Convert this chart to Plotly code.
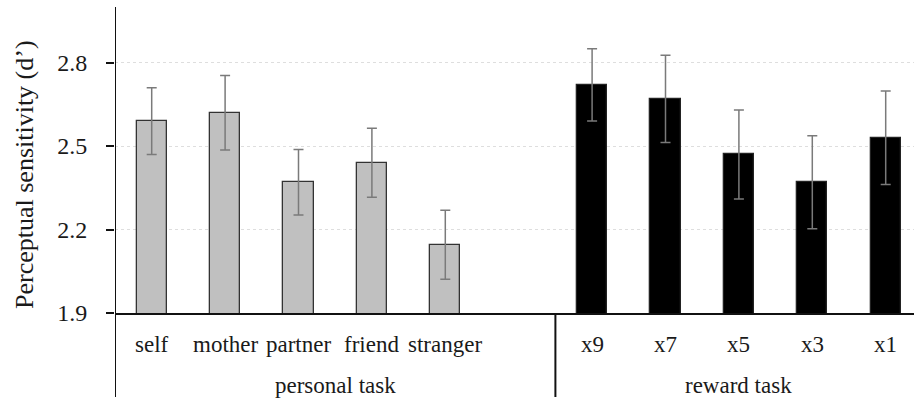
import plotly.graph_objects as go

# Perceptual sensitivity (d') by condition, two tasks
personal_labels = ["self", "mother", "partner", "friend", "stranger"]
personal_means = [2.59, 2.62, 2.37, 2.44, 2.145]
personal_err = [0.12, 0.134, 0.118, 0.124, 0.124]

reward_labels = ["x9", "x7", "x5", "x3", "x1"]
reward_means = [2.72, 2.67, 2.47, 2.37, 2.53]
reward_err = [0.13, 0.157, 0.16, 0.167, 0.168]

group_labels = ["personal task", "reward task"]
y_ticks = [1.9, 2.2, 2.5, 2.8]

W, H = 914, 401
M_L, M_R, M_T, M_B = 115, 0, 7, 88
plot_h = H - M_T - M_B

# personal conditions in slots 0..4, one empty slot, reward in 6..10
px = list(range(len(personal_labels)))
rx = [len(personal_labels) + 1 + i for i in range(len(reward_labels))]
sep_x = len(personal_labels) + 0.5
slot_px = 73.4
x_lo = -0.5
x_hi = x_lo + (W - M_L - M_R) / slot_px


def py(pixel_y):
    """Convert a page pixel row to paper y of the plotting area."""
    return (H - M_B - pixel_y) / plot_h


FONT = "Liberation Serif"
TXT = "#1a1a1a"
err_style = dict(thickness=1.5, width=5, color="#7a7a7a")

fig = go.Figure()
fig.add_trace(go.Bar(
    x=px, y=personal_means, width=0.41,
    marker=dict(color="#c0c0c0", line=dict(color="#333333", width=1.3)),
    error_y=dict(type="data", array=personal_err, visible=True, **err_style),
    showlegend=False,
))
fig.add_trace(go.Bar(
    x=rx, y=reward_means, width=0.41,
    marker=dict(color="#000000", line=dict(color="#222222", width=1.3)),
    error_y=dict(type="data", array=reward_err, visible=True, **err_style),
    showlegend=False,
))

annotations = []
for xs, labs in ((px, personal_labels), (rx, reward_labels)):
    for x, lab in zip(xs, labs):
        annotations.append(dict(
            x=x, y=py(344), xref="x", yref="paper", text=lab, showarrow=False,
            font=dict(family=FONT, size=23, color=TXT),
            xanchor="center", yanchor="middle",
        ))
group_centres = [(x_lo + sep_x) / 2, (sep_x + rx[-1] + 0.5) / 2]
for gx, lab in zip(group_centres, group_labels):
    annotations.append(dict(
        x=gx, y=py(385), xref="x", yref="paper", text=lab, showarrow=False,
        font=dict(family=FONT, size=23, color=TXT),
        xanchor="center", yanchor="middle",
    ))
# axis title, placed in page pixels converted to paper
annotations.append(dict(
    x=(24 - M_L) / (W - M_L - M_R), y=py(175), xref="paper", yref="paper",
    text="Perceptual sensitivity (d’)",
    showarrow=False, textangle=-90,
    font=dict(family=FONT, size=26, color=TXT),
    xanchor="center", yanchor="middle",
))

shapes = [
    # y-axis line running down through the label band
    dict(type="line", xref="x", yref="paper", x0=x_lo, x1=x_lo,
         y0=1, y1=py(397), line=dict(color="#111111", width=2)),
    # separator between the two tasks
    dict(type="line", xref="x", yref="paper", x0=sep_x, x1=sep_x,
         y0=0, y1=py(397), line=dict(color="#111111", width=2)),
]

fig.update_layout(
    width=W, height=H,
    margin=dict(l=M_L, r=M_R, t=M_T, b=M_B, pad=0),
    paper_bgcolor="white", plot_bgcolor="white",
    font=dict(family=FONT, color=TXT),
    bargap=0,
    annotations=annotations,
    shapes=shapes,
    xaxis=dict(
        range=[x_lo, x_hi], showticklabels=False, ticks="",
        showgrid=False, zeroline=False,
        showline=True, linecolor="#111111", linewidth=2,
    ),
    yaxis=dict(
        range=[1.9, 3.0], tickvals=y_ticks,
        ticktext=[f"{v:.1f}" for v in y_ticks],
        ticks="outside", ticklen=8, tickwidth=1.5, tickcolor="#111111",
        ticklabelstandoff=14,
        tickfont=dict(family=FONT, size=24, color=TXT),
        showgrid=True, gridcolor="#dedede", gridwidth=1, griddash="dot",
        zeroline=False, showline=False,
    ),
)

fig.write_html("out.html")
